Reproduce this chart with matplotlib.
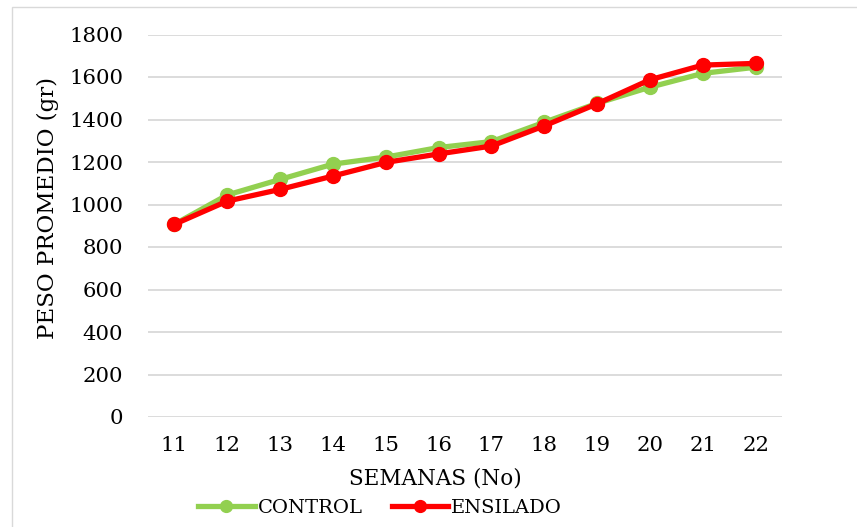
import matplotlib
matplotlib.use("Agg")
import matplotlib.pyplot as plt
from matplotlib.patches import Rectangle

semanas = ["11", "12", "13", "14", "15", "16", "17", "18", "19", "20", "21", "22"]
control = [907, 1045, 1118, 1190, 1223, 1268, 1296, 1387, 1476, 1552, 1617, 1646]
ensilado = [907, 1016, 1071, 1134, 1198, 1238, 1275, 1370, 1474, 1587, 1656, 1664]
yticks = [0, 200, 400, 600, 800, 1000, 1200, 1400, 1600, 1800]

W, H = 857, 527
fig = plt.figure(figsize=(W / 100, H / 100), dpi=100)
plt.rcParams['font.family'] = ['DejaVu Serif']

left, right, top, bottom = 148, 782, 34.5, 417
ax = fig.add_axes([left / W, 1 - bottom / H, (right - left) / W, (bottom - top) / H])

x = list(range(len(semanas)))
ax.plot(x, control, color="#92D050", lw=3.8, marker="o", ms=10, label="CONTROL", zorder=3)
ax.plot(x, ensilado, color="#FF0000", lw=3.8, marker="o", ms=10, label="ENSILADO", zorder=4)

ax.set_xlim(-0.5, len(semanas) - 0.5)
ax.set_ylim(0, 1800)
ax.set_yticks(yticks)
ax.set_xticks(x)
ax.set_xticklabels(semanas)
ax.grid(axis="y", color="#D9D9D9", lw=1.3)
ax.set_axisbelow(True)
for s in ax.spines.values():
    s.set_visible(False)
ax.tick_params(axis="both", length=0, labelsize=15.3, colors="black")
ax.tick_params(axis="x", pad=14)
ax.tick_params(axis="y", pad=18)

fig.text(48 / W, 1 - 208 / H, "PESO PROMEDIO (gr)", rotation=90, ha="center", va="center", fontsize=16.5)
fig.text(435 / W, 1 - 478 / H, "SEMANAS (No)", ha="center", va="center", fontsize=15.5)

leg = fig.legend(loc="center", bbox_to_anchor=(380 / W, 1 - 508 / H), ncol=2, frameon=False,
                 fontsize=14, handlelength=2.9, handletextpad=0.15, columnspacing=1.5,
                 markerscale=0.85)

fig.patches.append(Rectangle((12 / W, -0.1), 1.2, 1 - 7 / H + 0.1, transform=fig.transFigure,
                             fill=False, edgecolor="#D9D9D9", lw=1))

fig.savefig("out.png", dpi=100)
